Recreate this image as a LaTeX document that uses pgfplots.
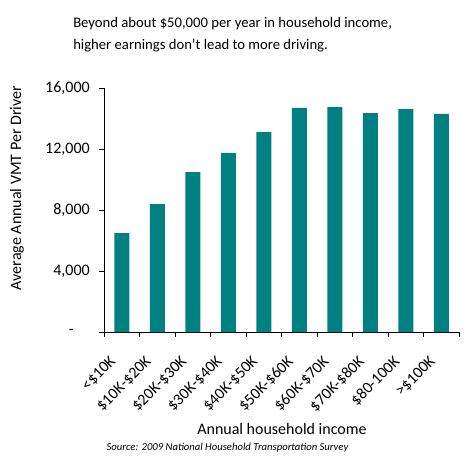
\documentclass[border=0pt]{standalone}
\usepackage{pgfplots}
\pgfplotsset{compat=1.18}
\usepackage{fontspec}
\setmainfont{Carlito}
\definecolor{barteal}{RGB}{0,128,128}
\begin{document}
\begin{tikzpicture}[x=1pt,y=1pt]
\useasboundingbox (0,0) rectangle (354.75,-351);
\node[anchor=base west,font=\fontsize{11pt}{13pt}\selectfont,inner sep=0pt] at (54.75,-20.25) {Beyond about \$50,000 per year in household income,};
\node[anchor=base west,font=\fontsize{11pt}{13pt}\selectfont,inner sep=0pt] at (54.75,-36.75) {higher earnings don't lead to more driving.};
\begin{axis}[
  at={(78pt,-249pt)}, anchor=south west,
  scale only axis, width=266.25pt, height=183pt,
  xmin=-0.5, xmax=9.5, ymin=0, ymax=16000,
  axis x line*=bottom, axis y line*=left,
  axis line style={black, line width=0.75pt},
  tick align=outside,
  scaled y ticks=false,
  xtick={0,...,9},
  xticklabels={{<\$10K},{\$10K-\$20K},{\$20K-\$30K},{\$30K-\$40K},{\$40K-\$50K},{\$50K-\$60K},{\$60K-\$70K},{\$70K-\$80K},{\$80-100K},{>\$100K}},
  major x tick style={draw=none},
  minor xtick={-0.5,0.5,...,9.5},
  minor tick length=3.75pt,
  minor x tick style={black, line width=0.75pt},
  ytick={0,4000,8000,12000,16000},
  yticklabels={{-\kern12pt},{4,000},{8,000},{12,000},{16,000}},
  major tick length=3.75pt,
  major y tick style={black, line width=0.75pt},
  tick label style={font=\fontsize{12pt}{14pt}\selectfont, text=black},
  xticklabel style={xshift=-6.2pt, yshift=-16.6pt, rotate=45, anchor=east, inner sep=0pt},
  yticklabel style={anchor=east, inner sep=0pt, xshift=-6.75pt},
  clip=false,
]
\addplot[ybar, bar width=11.25pt, fill=barteal, draw=none] coordinates {
(0,6490) (1,8390) (2,10490) (3,11740) (4,13110) (5,14690) (6,14750) (7,14360) (8,14620) (9,14300)};
\end{axis}
\node[rotate=90,font=\fontsize{12pt}{14pt}\selectfont,inner sep=0pt] at (12.75,-141) {Average Annual VMT Per Driver};
\node[font=\fontsize{12pt}{14pt}\selectfont,inner sep=0pt] at (211.5,-321.75) {Annual household income};
\node[font=\fontsize{8pt}{10pt}\selectfont\itshape,inner sep=0pt] at (170.6,-336) {Source: 2009 National Household Transportation Survey};
\end{tikzpicture}
\end{document}
